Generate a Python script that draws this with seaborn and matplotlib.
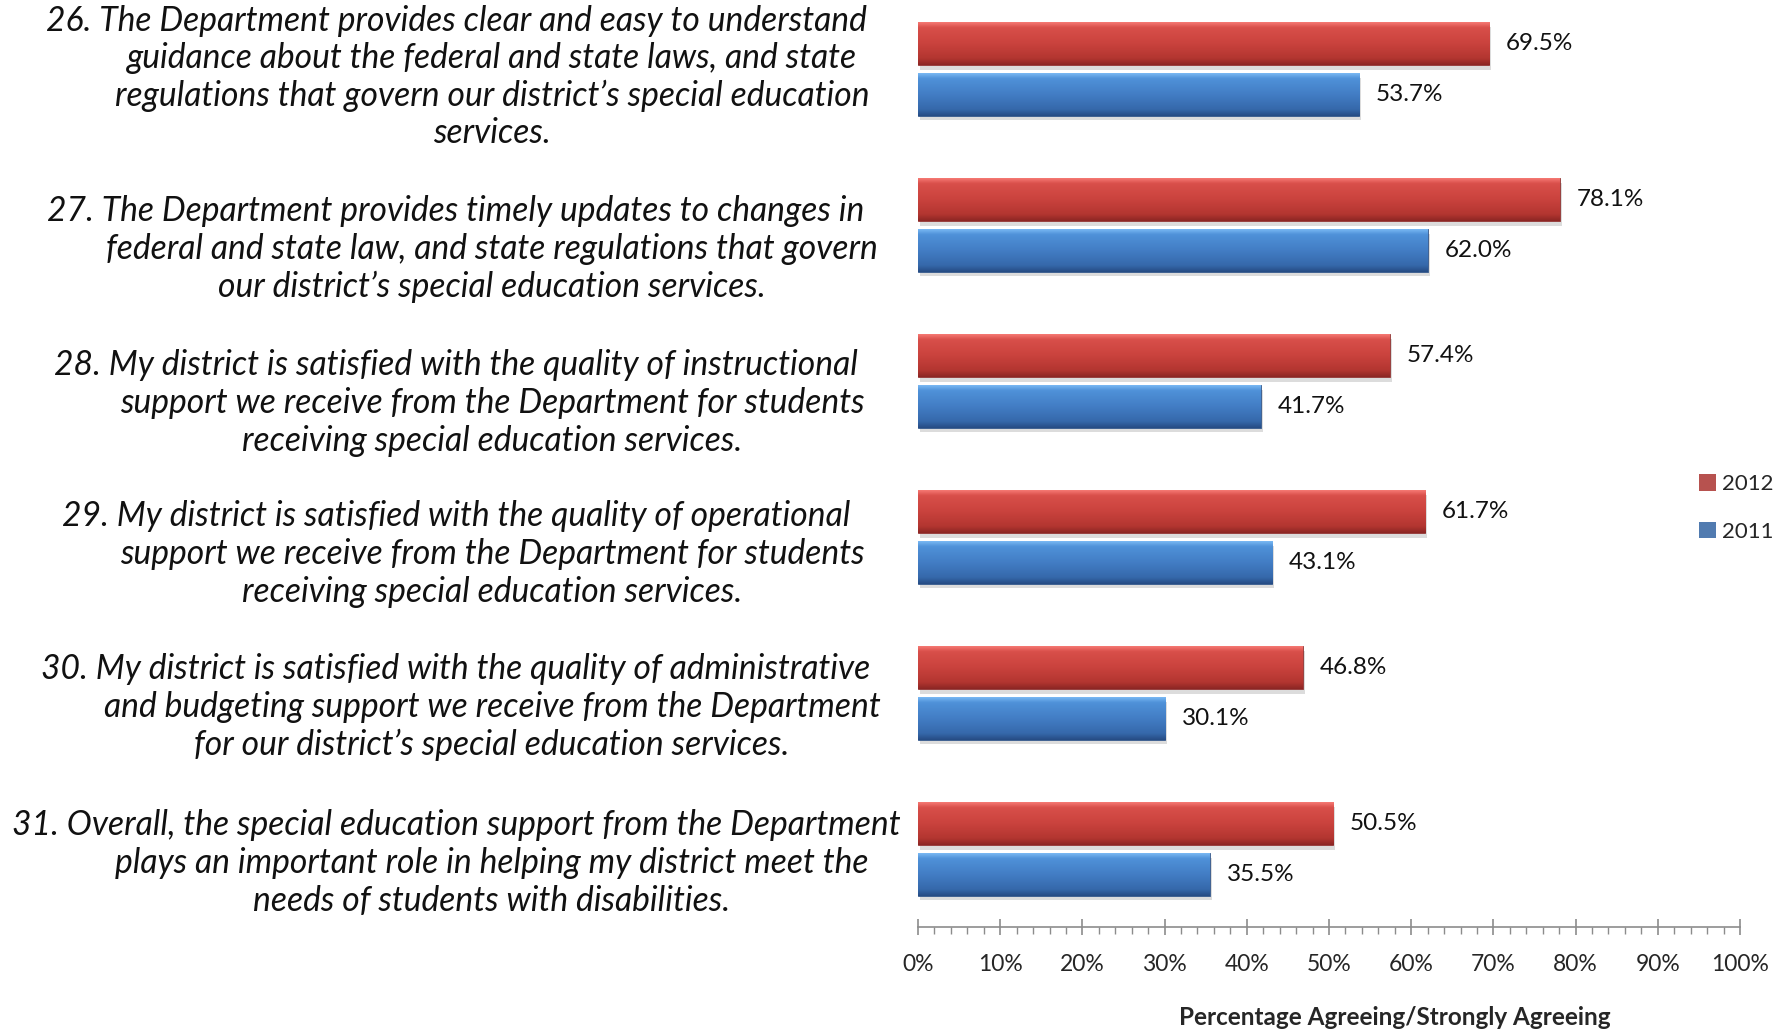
import numpy as np
import pandas as pd
import matplotlib
matplotlib.use("Agg")
import matplotlib.pyplot as plt
import seaborn as sns
from matplotlib.ticker import MultipleLocator, FuncFormatter

# ---------------- data ----------------
questions = [
    "26. The Department provides clear and easy to understand\nguidance about the federal and state laws, and state\nregulations that govern our district\u2019s special education\nservices.",
    "27. The Department provides timely updates to changes in\nfederal and state law, and state regulations that govern\nour district\u2019s special education services.",
    "28. My district is satisfied with the quality of instructional\nsupport we receive from the Department for students\nreceiving special education services.",
    "29. My district is satisfied with the quality of operational\nsupport we receive from the Department for students\nreceiving special education services.",
    "30. My district is satisfied with the quality of administrative\nand budgeting support we receive from the Department\nfor our district\u2019s special education services.",
    "31. Overall, the special education support from the Department\nplays an important role in helping my district meet the\nneeds of students with disabilities.",
]
years = ["2012", "2011"]
values_2012 = [69.5, 78.1, 57.4, 61.7, 46.8, 50.5]
values_2011 = [53.7, 62.0, 41.7, 43.1, 30.1, 35.5]
x_ticks = [0, 10, 20, 30, 40, 50, 60, 70, 80, 90, 100]
x_title = "Percentage Agreeing/Strongly Agreeing"

# ---------------- style ----------------
sns.set_theme(style="white")
plt.rcParams["font.family"] = ["Lato", "DejaVu Sans"]

colors = {"2012": "#C9413D", "2011": "#4179C0"}
grad = {
    "2012": [(0.96, 0.47, 0.45), (0.85, 0.31, 0.29), (0.79, 0.26, 0.24), (0.70, 0.21, 0.19), (0.55, 0.15, 0.14)],
    "2011": [(0.47, 0.72, 0.95), (0.31, 0.57, 0.85), (0.26, 0.49, 0.77), (0.21, 0.41, 0.67), (0.15, 0.30, 0.52)],
}

df = pd.DataFrame({
    "question": questions * 2,
    "year": [years[0]] * len(questions) + [years[1]] * len(questions),
    "value": values_2012 + values_2011,
})

W, H = 1789, 1030
fig = plt.figure(figsize=(W / 100, H / 100), dpi=100)
ax = fig.add_axes([918 / W, (H - 927) / H, (1740 - 918) / W, (927 + 9) / H])

sns.barplot(data=df, y="question", x="value", hue="year", hue_order=years,
            order=questions, orient="h", palette=colors, width=0.65, gap=0.16,
            ax=ax, legend=True, edgecolor="none", linewidth=0)

ax.set_xlim(0, 100)
ylim = ax.get_ylim()

# gradient fill + shadow for each bar
for cont, yr in zip(ax.containers, years):
    cmap = matplotlib.colors.LinearSegmentedColormap.from_list(
        "g" + yr, list(zip([0, 0.12, 0.5, 0.85, 1.0], grad[yr])))
    for p in cont.patches:
        x0, y0, w, h = p.get_x(), p.get_y(), p.get_width(), p.get_height()
        shadow = matplotlib.patches.Rectangle((x0 + 0.25, y0 + 0.03), w, h,
                                              facecolor="#bbbbbb", edgecolor="none",
                                              alpha=0.5, zorder=1)
        ax.add_patch(shadow)
        g = np.linspace(0, 1, 64).reshape(-1, 1)
        im = ax.imshow(g, cmap=cmap, aspect="auto", extent=(x0, x0 + w, y0 + h, y0),
                       origin="upper", zorder=2, interpolation="bilinear")
        im.set_clip_path(p)
        p.set_zorder(2)
        p.set_facecolor("none")
        p.set_edgecolor(grad[yr][4])
        p.set_linewidth(0.6)
    ax.bar_label(cont, labels=[f"{v:.1f}%" for v in cont.datavalues], padding=12,
                 fontsize=17.5, color="#111111")

ax.set_ylim(ylim)
ax.set_xlim(0, 100)

# axes styling
for s in ["top", "right", "left"]:
    ax.spines[s].set_visible(False)
ax.spines["bottom"].set_color("#8c8c8c")
ax.spines["bottom"].set_linewidth(1.2)
ax.set_yticks([])
ax.set_ylabel("")
ax.xaxis.set_minor_locator(MultipleLocator(2))
ax.set_xticks(x_ticks)
ax.xaxis.set_major_formatter(FuncFormatter(lambda v, _: f"{v:.0f}%"))
ax.tick_params(axis="x", which="major", direction="inout", length=11, width=1.2,
               color="#8c8c8c", labelsize=16.5, pad=14, bottom=True)
ax.tick_params(axis="x", which="minor", direction="out", length=5, width=1.0,
               color="#8c8c8c", bottom=True)
ax.set_xlabel(x_title, fontsize=17.5, fontweight="bold", x=0.58, labelpad=22)

# question labels (left side)
line_h = 27.1  # points
shifts = [8, 24, 22, 17, 14, 14]  # pixels downward
trans = matplotlib.transforms.blended_transform_factory(fig.transFigure, ax.transData)
for i, (q, sh) in enumerate(zip(questions, shifts)):
    lines = q.split("\n")
    n = len(lines)
    for k, ln in enumerate(lines):
        xc = 456 / W if k == 0 else 492 / W
        dy = -((k - (n - 1) / 2) * line_h) - sh * 0.72
        ax.annotate(ln, xy=(xc, i), xycoords=trans, xytext=(0, dy),
                    textcoords="offset points", ha="center", va="center",
                    fontsize=24.2, fontstyle="italic", color="#111111",
                    annotation_clip=False)

# legend
leg = ax.get_legend()
handles = leg.legend_handles
labels = [t.get_text() for t in leg.get_texts()]
leg.remove()
fig.legend(handles, labels, loc="center left", bbox_to_anchor=(1688 / W, 1 - 508 / H),
           frameon=False, fontsize=16, handlelength=0.75, handleheight=0.75,
           handletextpad=0.3, labelspacing=1.25, borderpad=0)

fig.savefig("out.png", dpi=100)
